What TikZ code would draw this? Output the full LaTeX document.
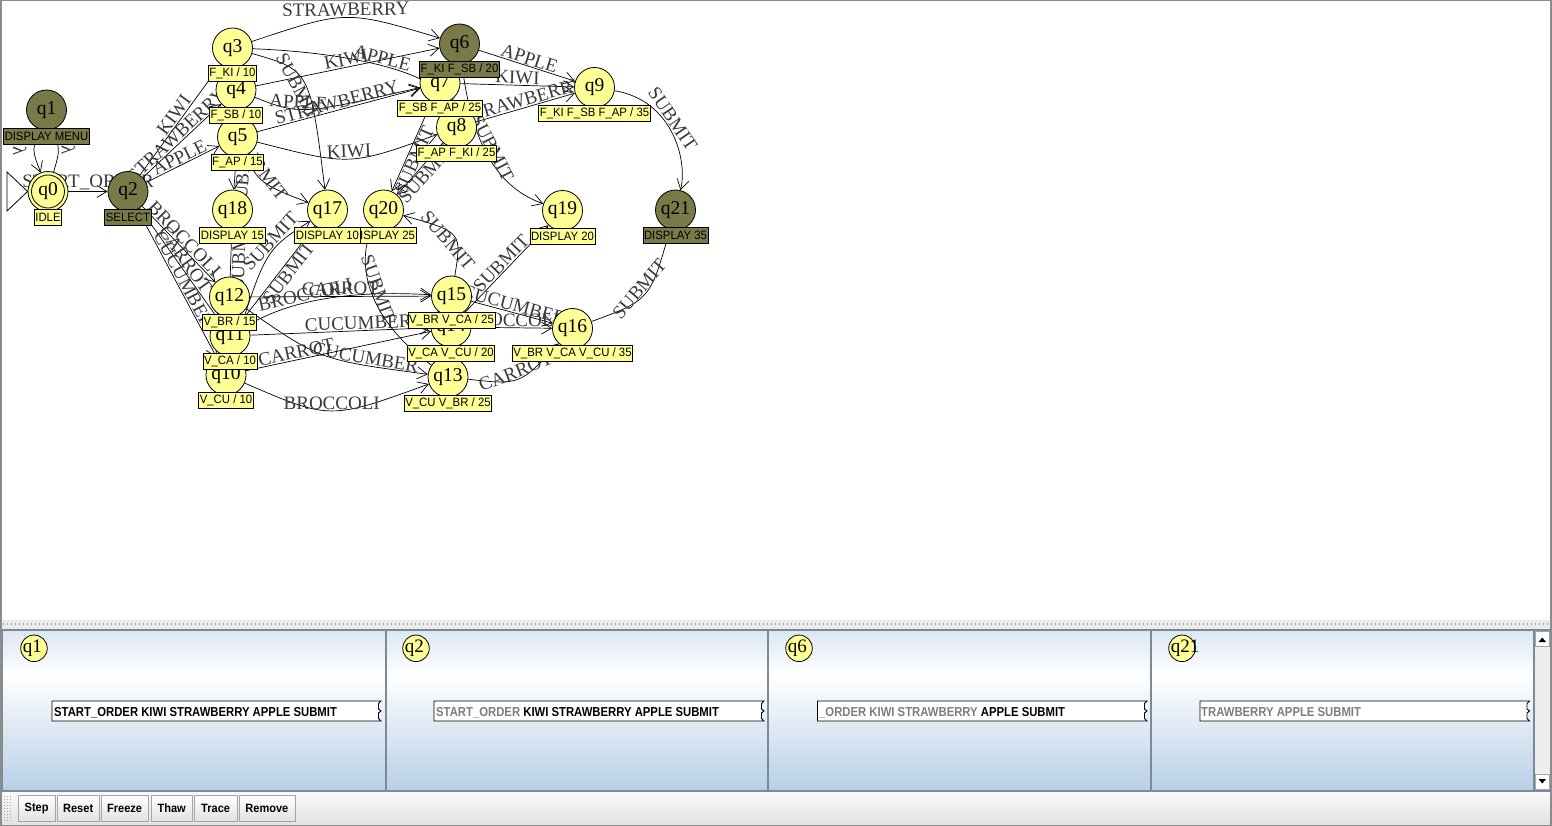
\documentclass[tikz,border=0pt]{standalone}
\usepackage{fontspec}
\setmainfont{Liberation Serif}
\newfontfamily\tagfont[FakeStretch=0.94]{Liberation Sans}
\newfontfamily\tapefont[FakeStretch=0.87]{Liberation Sans}
\newfontfamily\buttonfont[FakeStretch=0.92]{Liberation Sans}
\usetikzlibrary{arrows.meta}

\definecolor{stateyellow}{RGB}{255,255,150}
\definecolor{stateolive}{RGB}{122,122,72}
\definecolor{labelgray}{RGB}{58,58,58}
\definecolor{frameline}{RGB}{140,140,140}
\definecolor{panelline}{RGB}{122,138,153}
\definecolor{paneltop}{RGB}{221,231,243}
\definecolor{panelbottom}{RGB}{184,207,230}
\definecolor{tapegray}{RGB}{125,125,125}
\definecolor{splitter}{RGB}{234,234,234}
\definecolor{griddot}{RGB}{165,165,165}
\definecolor{barlight}{RGB}{250,250,250}
\definecolor{bardark}{RGB}{226,226,226}
\definecolor{buttonedge}{RGB}{165,165,165}
\definecolor{scrolltrack}{RGB}{238,238,238}

\pgfdeclarelayer{backdrop}
\pgfdeclarelayer{wires}
\pgfdeclarelayer{tags}
\pgfsetlayers{backdrop,wires,main,tags}

\tikzset{
  state/.style={circle, draw=black, line width=0.8pt, fill=stateyellow, minimum size=40pt,
    inner sep=0pt, font=\fontsize{19.5}{20}\selectfont},
  busy/.style={state, fill=stateolive},
  tag/.style={draw=black, line width=0.8pt, fill=stateyellow,
    font=\tagfont\fontsize{12.1}{12}\selectfont, inner xsep=1.1pt, inner ysep=0pt, minimum height=16pt},
  busytag/.style={tag, fill=stateolive},
  move/.style={draw=black, line width=0.7pt,
    -{Straight Barb[length=10pt,width=12pt,line width=0.7pt]}},
  lab/.style={font=\fontsize{19}{20}\selectfont, text=labelgray, sloped, inner sep=1pt},
  mini/.style={circle, draw=black, line width=0.8pt, fill=stateyellow, minimum size=26.5pt, inner sep=0pt},
  minitext/.style={font=\fontsize{19}{20}\selectfont, anchor=west, inner sep=0pt},
  tapetext/.style={font=\tapefont\bfseries\fontsize{13}{13}\selectfont, anchor=base west, inner sep=0pt},
  tapeedge/.style={draw=black, line width=0.9pt, fill=white},
  btn/.style={draw=buttonedge, line width=0.8pt, top color=white, bottom color=bardark,
    font=\buttonfont\bfseries\fontsize{12}{12}\selectfont, minimum height=26pt, inner sep=0pt, anchor=north west},
}

% tape strip with a torn right end: #1 left x, #2 right x
\newcommand\tapestrip[2]{%
  \path[tapeedge] (#1,701) -- (#2,701) -- (#2-2.5,703.5) -- (#2-2.5,709) -- (#2,711)
    -- (#2-2.5,713) -- (#2-2.5,718.5) -- (#2,721) -- (#1,721) -- cycle;}

\begin{document}
\begin{tikzpicture}[x=1pt, y=-1pt]
\useasboundingbox (0,0) rectangle (1552,826);

\begin{pgfonlayer}{backdrop}
  \fill[white] (0,0) rectangle (1552,826);
\end{pgfonlayer}

% ---------------- states ----------------
\node[state] (q0) at (48,191.5) {q0};
\draw[line width=0.8pt] (q0.center) circle[radius=16.5pt];
\node[busy]  (q1) at (46.5,110) {q1};
\node[busy]  (q2) at (128,191.5) {q2};
\node[state] (q3) at (232.5,48) {q3};
\node[state] (q4) at (236,90) {q4};
\node[state] (q5) at (237.5,137) {q5};
\node[busy]  (q6) at (459.5,44) {q6};
\node[state] (q7) at (440,83) {q7};
\node[state] (q8) at (456.5,127.5) {q8};
\node[state] (q9) at (594.5,87.5) {q9};
\node[state] (q10) at (226,375) {q10};
\node[state] (q11) at (230,336) {q11};
\node[state] (q12) at (229.5,297) {q12};
\node[state] (q13) at (448,377) {q13};
\node[state] (q14) at (451,327) {q14};
\node[state] (q15) at (451.5,296) {q15};
\node[state] (q16) at (572.5,328.5) {q16};
\node[state] (q17) at (327.5,210) {q17};
\node[state] (q18) at (232.5,210) {q18};
\node[state] (q19) at (562.5,210.5) {q19};
\node[state] (q20) at (383.5,210) {q20};
\node[busy]  (q21) at (675.5,210) {q21};

% ---------------- state tags ----------------
\begin{pgfonlayer}{tags}
  \node[tag]     (g0)  at ([yshift=-25.5pt]q0.center)  {IDLE};
  \node[busytag] (g1)  at ([yshift=-26pt]q1.center)    {DISPLAY MENU};
  \node[busytag] (g2)  at ([yshift=-25.5pt]q2.center)  {SELECT};
  \node[tag]     (g3)  at ([yshift=-25.7pt]q3.center)  {F\_KI / 10};
  \node[tag]     (g4)  at ([yshift=-25.3pt]q4.center)  {F\_SB / 10};
  \node[tag]     (g5)  at ([yshift=-25.5pt]q5.center)  {F\_AP / 15};
  \node[busytag] (g6)  at ([yshift=-25.7pt]q6.center)  {F\_KI F\_SB / 20};
  \node[tag]     (g7)  at ([yshift=-25.7pt]q7.center)  {F\_SB F\_AP / 25};
  \node[tag]     (g8)  at ([yshift=-25.8pt]q8.center)  {F\_AP F\_KI / 25};
  \node[tag]     (g9)  at ([yshift=-26.2pt]q9.center)  {F\_KI F\_SB F\_AP / 35};
  \node[tag]     (g10) at ([yshift=-25.8pt]q10.center) {V\_CU / 10};
  \node[tag]     (g11) at ([yshift=-25.7pt]q11.center) {V\_CA / 10};
  \node[tag]     (g12) at ([yshift=-25pt]q12.center)   {V\_BR / 15};
  \node[tag]     (g13) at ([yshift=-26pt]q13.center)   {V\_CU V\_BR / 25};
  \node[tag]     (g14) at ([yshift=-26pt]q14.center)   {V\_CA V\_CU / 20};
  \node[tag]     (g15) at ([yshift=-24.3pt]q15.center) {V\_BR V\_CA / 25};
  \node[tag]     (g16) at ([yshift=-25.2pt]q16.center) {V\_BR V\_CA V\_CU / 35};
  \node[tag]     (g18) at ([yshift=-25pt]q18.center)   {DISPLAY 15};
  \node[tag]     (g20) at ([yshift=-25pt]q20.center)   {DISPLAY 25};
  \node[tag]     (g17) at ([yshift=-25pt]q17.center)   {DISPLAY 10};
  \node[tag]     (g19) at ([yshift=-25.5pt]q19.center) {DISPLAY 20};
  \node[busytag] (g21) at ([yshift=-25pt]q21.center)   {DISPLAY 35};
\end{pgfonlayer}

% ---------------- transitions ----------------
\begin{pgfonlayer}{wires}
  \coordinate (tipA) at (7,172);
  \coordinate (tipB) at (7,211);
  \draw[line width=0.8pt] (tipA) -- (tipB) -- (q0.west) -- cycle;

  \draw[move] (q0) -- node[lab, above] {START\_ORDER} (q2);
  \draw[move] (q1) .. controls (32,150) .. node[lab, below=6pt] {λ} (q0);
  \draw[move] (q0) .. controls (60,150) .. node[lab, above=2pt] {λ} (q1);

  \draw[move] (q2) -- node[lab, above] {KIWI} (q3);
  \draw[move] (q2) -- node[lab, above] {STRAWBERRY} (q4);
  \draw[move] (q2) -- node[lab, above] {APPLE} (q5);
  \draw[move] (q2) -- node[lab, above] {BROCCOLI} (q12);
  \draw[move] (q2) -- node[lab, above] {CARROT} (q11);
  \draw[move] (q2) -- node[lab, above] {CUCUMBER} (q10);

  % fruit menu
  \draw[move] (q3) .. controls (346,10) .. node[lab, above] {STRAWBERRY} (q6);
  \draw[move] (q3) .. controls (340,52) and (440,70) .. node[lab, above] {APPLE} (q8);
  \draw[move] (q4) -- node[lab, above] {KIWI} (q6);
  \draw[move] (q4) .. controls (300,115) .. node[lab, above, pos=0.4] {APPLE} (q7);
  \draw[move] (q5) -- node[lab, above] {STRAWBERRY} (q7);
  \draw[move] (q5) .. controls (350,166) .. node[lab, above] {KIWI} (q8);
  \draw[move] (q6) -- node[lab, above] {APPLE} (q9);
  \draw[move] (q7) -- node[lab, above] {KIWI} (q9);
  \draw[move] (q8) -- node[lab, above] {STRAWBERRY} (q9);

  \draw[move] (q3) .. controls (310,70) .. node[lab, below] {SUBMIT} (q17);
  \draw[move] (q4) .. controls (250,180) .. node[lab, above] {SUBMIT} (q17);
  \draw[move] (q5) -- node[lab, below] {SUBMIT} (q18);
  \draw[move] (q6) .. controls (470,130) and (490,185) .. node[lab, above] {SUBMIT} (q19);
  \draw[move] (q7) -- node[lab, below, pos=0.62] {SUBMIT} (q20);
  \draw[move] (q8) -- node[lab, below] {SUBMIT} (q20);
  \draw[move] (q9) .. controls (672,100) and (688,160) .. node[lab, above, pos=0.42] {SUBMIT} (q21);

  % vegetable menu
  \draw[move] (q12) -- node[lab, above] {CARROT} (q15);
  \draw[move] (q12) .. controls (320,360) .. node[lab, above, pos=0.75] {CUCUMBER} (q13);
  \draw[move] (q12) -- node[lab, below] {SUBMIT} (q18);
  \draw[move] (q11) .. controls (290,300) and (350,290) .. node[lab, above, pos=0.4] {BROCCOLI} (q15);
  \draw[move] (q11) -- node[lab, above, pos=0.6] {CUCUMBER} (q14);
  \draw[move] (q11) -- node[lab, below, pos=0.55] {SUBMIT} (q17);
  \draw[move] (q10) -- node[lab, above, pos=0.28] {CARROT} (q14);
  \draw[move] (q10) .. controls (330,420) .. node[lab, above] {BROCCOLI} (q13);
  \draw[move] (q10) .. controls (265,250) .. node[lab, above, pos=0.65] {SUBMIT} (q17);
  \draw[move] (q15) -- node[lab, above] {CUCUMBER} (q16);
  \draw[move] (q14) -- node[lab, above] {BROCCOLI} (q16);
  \draw[move] (q13) .. controls (520,385) .. node[lab, above] {CARROT} (q16);
  \draw[move] (q15) .. controls (462,232) .. node[lab, below] {SUBMIT} (q20);
  \draw[move] (q13) .. controls (355,310) and (360,250) .. node[lab, above, pos=0.45] {SUBMIT} (q20);
  \draw[move] (q14) -- node[lab, above] {SUBMIT} (q19);
  \draw[move] (q16) .. controls (650,300) .. node[lab, above] {SUBMIT} (q21);
\end{pgfonlayer}

% ---------------- splitter ----------------
\fill[splitter] (0,619.5) rectangle (1552,629);
\foreach \x in {3,7,...,1547} {\fill[griddot] (\x,623.3) rectangle ++(1.3,1.3);}

% ---------------- simulation panel ----------------
\fill[panelline] (0,629) rectangle (1552,631);
\shade[top color=paneltop, bottom color=white] (2,631) rectangle (1534,676);
\shade[top color=white, bottom color=panelbottom] (2,676) rectangle (1534,790);
\foreach \x in {1,384.5,767,1150,1532.5} {\fill[panelline] (\x,631) rectangle ++(2,159);}
\fill[panelline] (0,790) rectangle (1552,792);

% scroll bar
\fill[scrolltrack] (1534.5,631) rectangle (1550,790);
\draw[panelline, line width=0.8pt] (1534.5,631) rectangle (1550,790);
\draw[buttonedge, line width=0.6pt, fill=white] (1535,631.5) rectangle (1549.5,646);
\draw[buttonedge, line width=0.6pt, fill=white] (1535,774.5) rectangle (1549.5,789.5);
\fill[black] (1538.5,642) -- (1546,642) -- (1542.25,637.5) -- cycle;
\fill[black] (1538.5,779) -- (1546,779) -- (1542.25,783.5) -- cycle;

% configuration cells
\node[mini] (m1) at (34,648.3) {};
\node[minitext] at ([xshift=2.2pt]m1.west) {q1};
\node[mini] (m2) at (416,648.3) {};
\node[minitext] at ([xshift=2.2pt]m2.west) {q2};
\node[mini] (m3) at (799,648.3) {};
\node[minitext] at ([xshift=2.2pt]m3.west) {q6};
\node[mini] (m4) at (1182,648.3) {};
\node[minitext] at ([xshift=2.2pt]m4.west) {q21};

\tapestrip{52}{381}
\tapestrip{434}{764}
\tapestrip{817.5}{1147}
\tapestrip{1200}{1529.5}
\node[tapetext] (s1) at (54,716.5) {START\_ORDER KIWI STRAWBERRY APPLE SUBMIT};
\node[tapetext] (s2) at (436,716.5) {\textcolor{tapegray}{START\_ORDER} KIWI STRAWBERRY APPLE SUBMIT};
\node[tapetext] (s3) at (819,716.5) {\textcolor{tapegray}{\_ORDER KIWI STRAWBERRY} APPLE SUBMIT};
\node[tapetext, text=tapegray] (s4) at (1201,716.5) {TRAWBERRY APPLE SUBMIT};

% ---------------- button bar ----------------
\shade[top color=barlight, bottom color=bardark] (0,792) rectangle (1552,824);
\foreach \y in {796,799,...,820} {\foreach \x in {4,7,10} {\fill[griddot] (\x,\y) rectangle ++(1.2,1.2);}}
\node[btn, minimum width=37.5pt] (b1) at (17.5,795) {Step};
\node[btn, minimum width=42.5pt] (b2) at (56.5,795) {Reset};
\node[btn, minimum width=47.5pt] (b3) at (100.5,795) {Freeze};
\node[btn, minimum width=41.5pt] (b4) at (150.5,795) {Thaw};
\node[btn, minimum width=42.5pt] (b5) at (194,795) {Trace};
\node[btn, minimum width=56pt] (b6) at (238.5,795) {Remove};

% window frame
\draw[frameline, line width=1.5pt] (0.75,0.75) rectangle (1550.75,825.25);
\end{tikzpicture}
\end{document}
